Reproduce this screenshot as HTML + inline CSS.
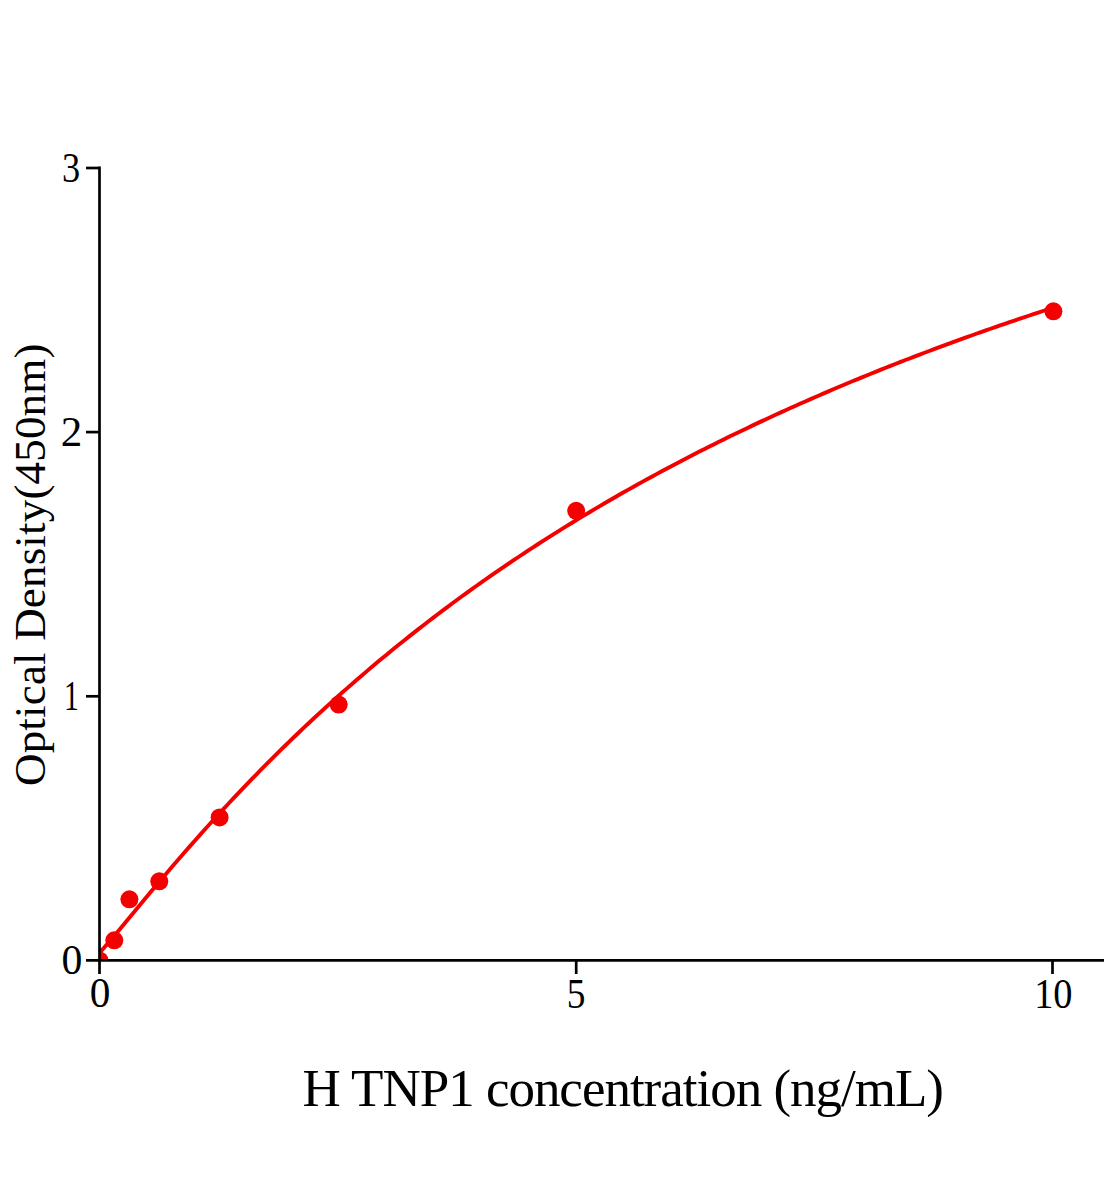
<!DOCTYPE html>
<html><head><meta charset="utf-8"><style>
html,body{margin:0;padding:0;background:#fff;}
body{width:1104px;height:1200px;overflow:hidden;}
svg{display:block;}
text{font-family:"Liberation Serif",serif;fill:#000;}
</style></head><body>
<svg width="1104" height="1200" viewBox="0 0 1104 1200">
<defs><clipPath id="pa"><rect x="99.5" y="0" width="1004.5" height="960.4"/></clipPath></defs>
<g clip-path="url(#pa)" fill="#f50000">
<circle cx="99.5" cy="960.4" r="9"/>
<circle cx="114.3" cy="940.3" r="9"/>
<circle cx="129.4" cy="899.3" r="9"/>
<circle cx="159.3" cy="881.3" r="9"/>
<circle cx="219.6" cy="817.4" r="9"/>
<circle cx="338.7" cy="704.6" r="9"/>
<circle cx="576.2" cy="510.8" r="9"/>
<circle cx="1053.4" cy="311.3" r="9"/>
</g>
<polyline points="99.50,952.68 104.27,947.57 109.03,942.06 113.80,936.42 118.56,930.71 123.33,924.98 128.09,919.22 132.86,913.47 137.62,907.72 142.38,901.99 147.15,896.27 151.91,890.58 156.68,884.91 161.44,879.27 166.21,873.67 170.97,868.09 175.74,862.55 180.50,857.04 185.27,851.57 190.03,846.13 194.80,840.73 199.56,835.37 204.33,830.05 209.10,824.77 213.86,819.52 218.62,814.32 223.39,809.15 228.16,804.02 232.92,798.93 237.69,793.88 242.45,788.87 247.22,783.90 251.98,778.96 256.75,774.07 261.51,769.21 266.27,764.39 271.04,759.61 275.81,754.87 280.57,750.16 285.34,745.50 290.10,740.87 294.87,736.27 299.63,731.72 304.39,727.20 309.16,722.71 313.92,718.27 318.69,713.85 323.46,709.48 328.22,705.13 332.99,700.83 337.75,696.55 342.51,692.32 347.28,688.11 352.05,683.94 356.81,679.80 361.57,675.70 366.34,671.62 371.11,667.58 375.87,663.57 380.63,659.60 385.40,655.65 390.17,651.74 394.93,647.85 399.70,644.00 404.46,640.18 409.22,636.38 413.99,632.62 418.75,628.89 423.52,625.18 428.29,621.50 433.05,617.86 437.81,614.24 442.58,610.64 447.35,607.08 452.11,603.54 456.88,600.03 461.64,596.55 466.40,593.09 471.17,589.66 475.94,586.26 480.70,582.88 485.46,579.53 490.23,576.20 495.00,572.90 499.76,569.62 504.52,566.37 509.29,563.14 514.06,559.93 518.82,556.75 523.59,553.59 528.35,550.46 533.12,547.35 537.88,544.26 542.64,541.19 547.41,538.15 552.17,535.13 556.94,532.13 561.71,529.15 566.47,526.19 571.24,523.26 576.00,520.34 580.77,517.45 585.53,514.58 590.30,511.72 595.06,508.89 599.83,506.08 604.59,503.29 609.36,500.52 614.12,497.76 618.88,495.03 623.65,492.32 628.42,489.62 633.18,486.94 637.95,484.29 642.71,481.65 647.48,479.02 652.24,476.42 657.00,473.84 661.77,471.27 666.53,468.72 671.30,466.18 676.07,463.67 680.83,461.17 685.60,458.69 690.36,456.22 695.12,453.77 699.89,451.34 704.66,448.93 709.42,446.53 714.18,444.14 718.95,441.77 723.72,439.42 728.48,437.08 733.25,434.76 738.01,432.45 742.77,430.16 747.54,427.89 752.31,425.62 757.07,423.38 761.84,421.14 766.60,418.93 771.37,416.72 776.13,414.53 780.89,412.36 785.66,410.19 790.42,408.05 795.19,405.91 799.96,403.79 804.72,401.68 809.49,399.59 814.25,397.51 819.02,395.44 823.78,393.38 828.54,391.34 833.31,389.31 838.07,387.29 842.84,385.29 847.61,383.29 852.37,381.31 857.13,379.34 861.90,377.39 866.67,375.44 871.43,373.51 876.20,371.59 880.96,369.68 885.73,367.78 890.49,365.90 895.25,364.02 900.02,362.16 904.79,360.30 909.55,358.46 914.32,356.63 919.08,354.81 923.85,353.00 928.61,351.20 933.38,349.42 938.14,347.64 942.90,345.87 947.67,344.11 952.44,342.37 957.20,340.63 961.97,338.90 966.73,337.19 971.50,335.48 976.26,333.78 981.02,332.10 985.79,330.42 990.55,328.75 995.32,327.09 1000.09,325.44 1004.85,323.80 1009.62,322.17 1014.38,320.55 1019.14,318.94 1023.91,317.34 1028.67,315.74 1033.44,314.16 1038.21,312.58 1042.97,311.01 1047.74,309.45 1052.50,307.90" fill="none" stroke="#f50000" stroke-width="3.9" stroke-linejoin="round"/>
<g stroke="#000" stroke-width="2.7" fill="none">
<line x1="99.5" y1="166.6" x2="99.5" y2="974"/>
<line x1="86" y1="960.4" x2="1104" y2="960.4"/>
<line x1="86" y1="168" x2="99.5" y2="168"/>
<line x1="86" y1="432.1" x2="99.5" y2="432.1"/>
<line x1="86" y1="696.3" x2="99.5" y2="696.3"/>
<line x1="576.2" y1="960.4" x2="576.2" y2="974"/>
<line x1="1052.5" y1="960.4" x2="1052.5" y2="974"/>
</g>
<g font-size="43">
<text transform="translate(62.11,182.3) scale(0.845,1)">3</text>
<text transform="translate(60.8,446) scale(1.0,1)">2</text>
<text transform="translate(64.12,709.9) scale(0.69,1)">1</text>
<text transform="translate(61.6,974.0) scale(0.972,1)">0</text>
<text transform="translate(89.82,1007.0) scale(0.961,1)">0</text>
<text transform="translate(566.83,1008.2) scale(0.87,1)">5</text>
<text transform="translate(1034.15,1007.8) scale(0.893,1)">10</text>
</g>
<text x="302.5" y="1106" font-size="53" textLength="641.5" lengthAdjust="spacing">H TNP1 concentration (ng/mL)</text>
<text transform="translate(45,786) rotate(-90)" font-size="45" textLength="442.5" lengthAdjust="spacing">Optical Density(450nm)</text>
</svg>
</body></html>
